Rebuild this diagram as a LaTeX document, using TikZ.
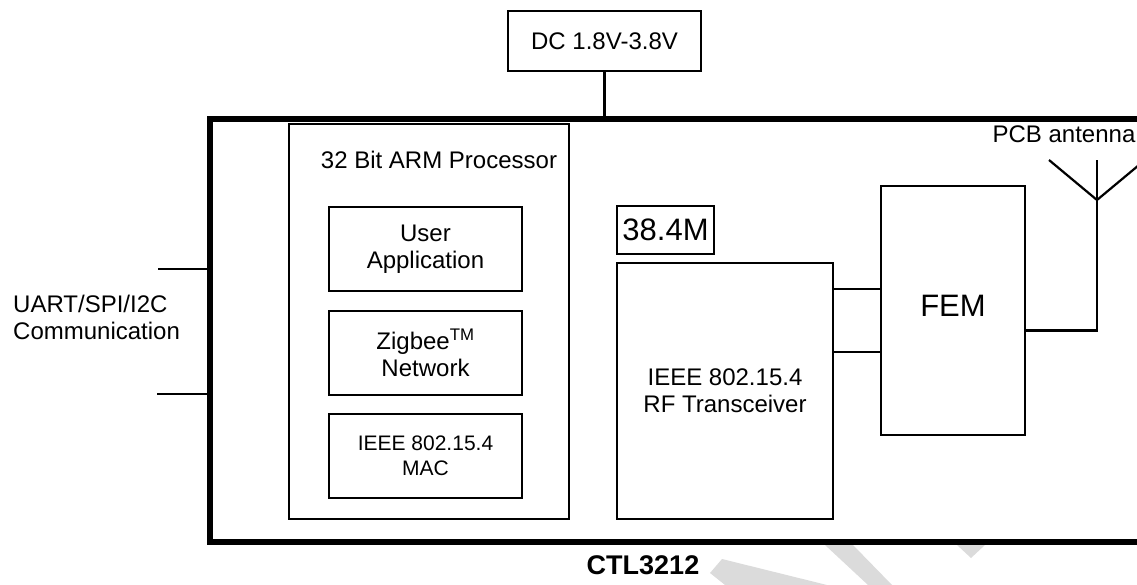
\documentclass[tikz,border=0pt]{standalone}
\usepackage{fontspec}
\setmainfont{Liberation Sans}
\begin{document}
\begin{tikzpicture}[x=1pt,y=-1pt,
  every node/.style={font=\fontsize{24}{27}\selectfont, inner sep=0pt, align=center},
  blk/.style={draw, line width=2.4pt, rectangle, inner sep=0pt},
  thinblk/.style={draw, line width=1.6pt, rectangle, inner sep=0pt},
  wire/.style={line width=2.2pt},
  frameline/.style={line width=6pt},
  wm/.style={fill=black!14, draw=none}]
\useasboundingbox (0,0) rectangle (1137,585);
% watermark fragments
\fill[wm] (710,573) -- (722,559) -- (827,585) -- (725,585) -- cycle;
\fill[wm] (825,545) -- (853,545) -- (892,585) -- (868,585) -- cycle;
\fill[wm] (957,545) -- (985,545) -- (971,558) -- cycle;
% outer frame
\coordinate (ftl) at (209.5,119);
\coordinate (fbl) at (209.5,541.5);
\coordinate (ftr) at (1150,119);
\coordinate (fbr) at (1150,541.5);
\draw[frameline] (ftr) -- (ftl) -- (fbl) -- (fbr);
% supply
\node[blk, minimum width=193pt, minimum height=60pt] (dc) at (604.5,41) {DC 1.8V-3.8V};
\draw[wire] (dc.south) -- (dc.south |- ftl);
% processor
\node[blk, minimum width=280pt, minimum height=395pt] (proc) at (429,321.5) {};
\node (proct) at (439,160) {32 Bit ARM Processor};
\node[blk, minimum width=193pt, minimum height=84pt] (user) at (425.5,249) {User\\Application};
\node[blk, minimum width=193pt, minimum height=84pt] (zig) at (425.5,353) {Zigbee\textsuperscript{TM}\\Network};
\node[thinblk, minimum width=193pt, minimum height=84pt, font=\fontsize{21}{25}\selectfont] (mac) at (425.5,456) {IEEE 802.15.4\\MAC};
% RF
\node[thinblk, minimum width=97pt, minimum height=48pt, font=\fontsize{31}{36}\selectfont] (clk) at (665.5,230) {38.4M};
\node[blk, minimum width=216pt, minimum height=256pt] (rf) at (725,391) {IEEE 802.15.4\\RF Transceiver};
\node[blk, minimum width=144pt, minimum height=249pt, font=\fontsize{31}{36}\selectfont, text depth=10pt] (fem) at (953,310.5) {FEM};
\coordinate (w1) at (0,289);
\coordinate (w2) at (0,352);
\draw[wire] (rf.east |- w1) -- (fem.west |- w1);
\draw[wire] (rf.east |- w2) -- (fem.west |- w2);
% antenna
\coordinate (antv) at (1097,200);
\coordinate (antl) at (1049,160);
\coordinate (antr) at (1145,160);
\coordinate (antt) at (1097,160);
\coordinate (feed) at (0,330.5);
\draw[wire] (fem.east |- feed) -- (antv |- feed) -- (antv) -- (antt);
\draw[wire] (antl) -- (antv) -- (antr);
\node (pcb) at (1064,134) {PCB antenna};
% interface
\node[align=left, anchor=west] (uart) at (13,317) {UART/SPI/I2C\\Communication};
\coordinate (c1) at (158,269);
\coordinate (c2) at (157,394);
\draw[wire] (c1) -- (c1 -| ftl);
\draw[wire] (c2) -- (c2 -| ftl);
\node[font=\bfseries\fontsize{27}{30}\selectfont] (name) at (643,565) {CTL3212};
\end{tikzpicture}
\end{document}
